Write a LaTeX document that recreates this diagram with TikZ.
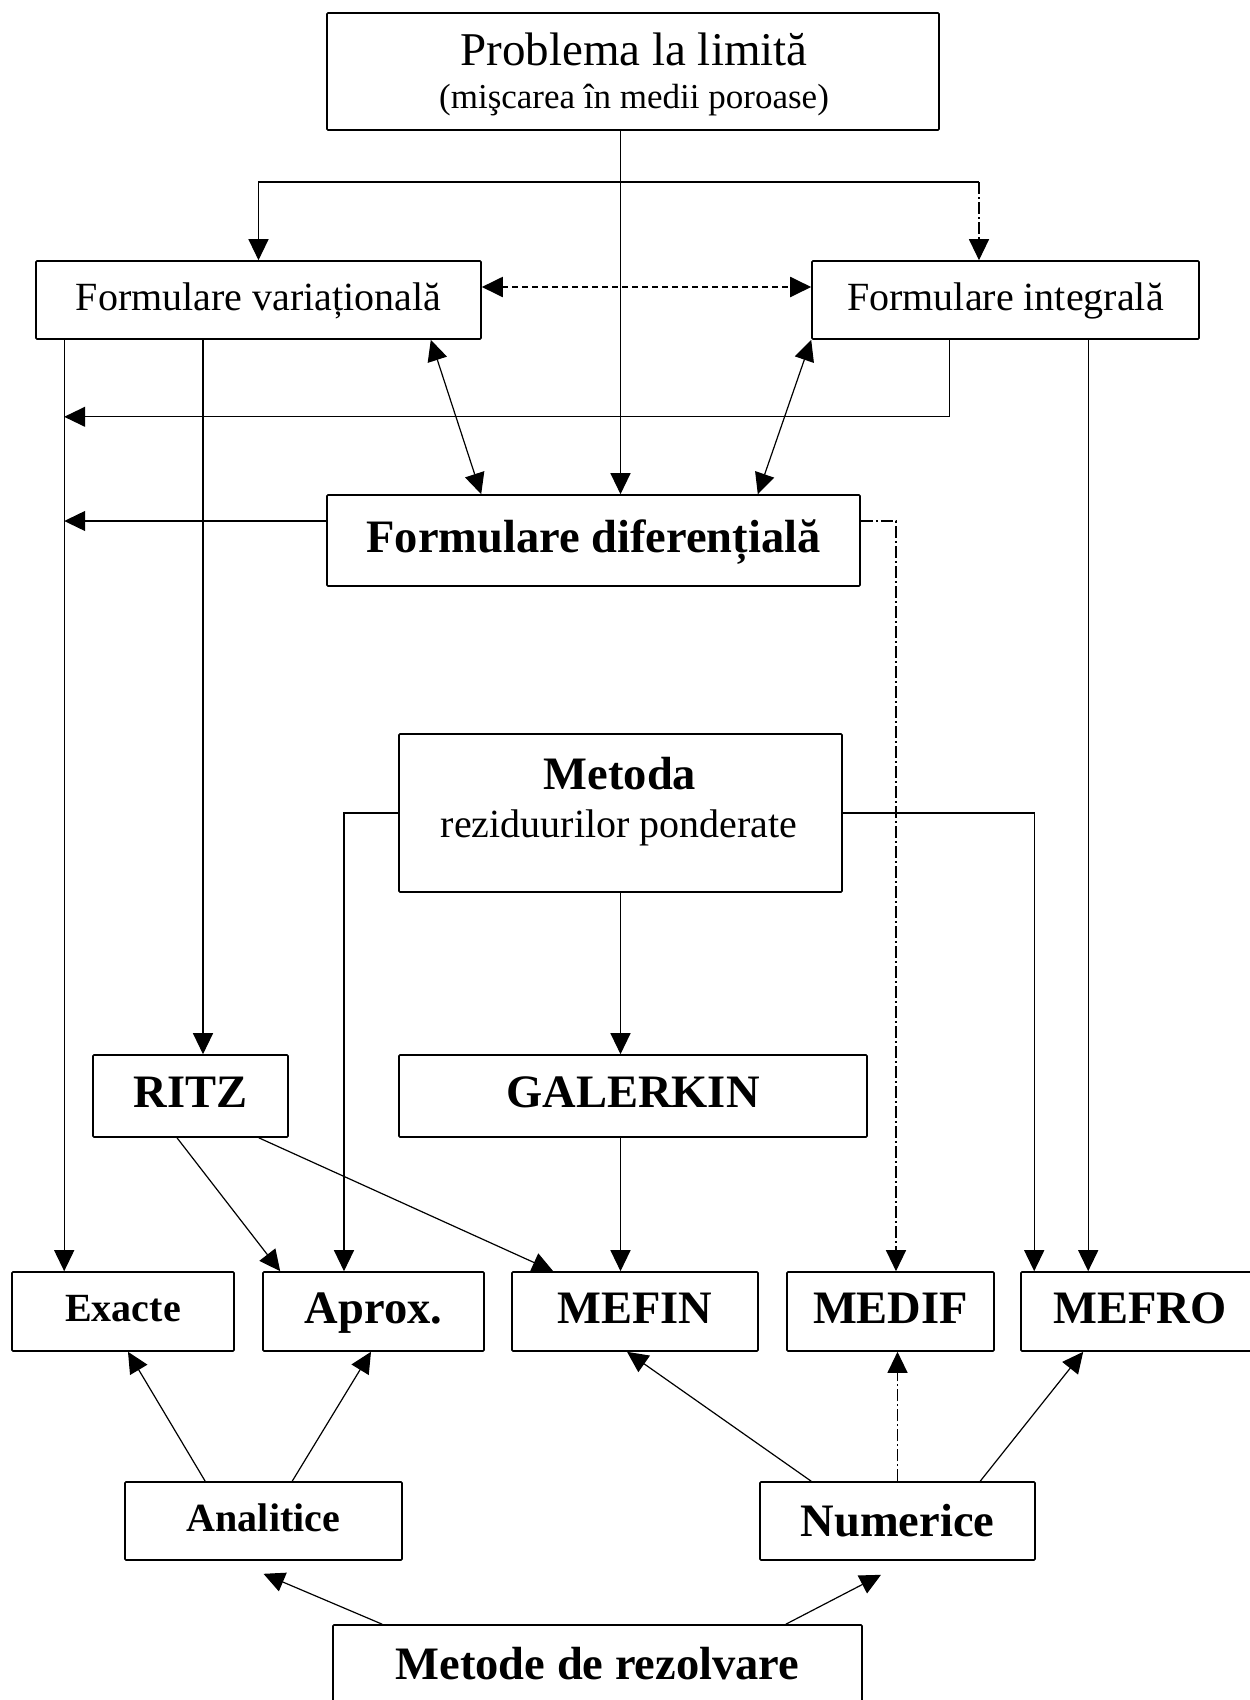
\documentclass[tikz,border=0pt]{standalone}
\usepackage{fontspec}
\setmainfont{Liberation Serif}
\usetikzlibrary{arrows.meta}

\begin{document}
\begin{tikzpicture}[x=1pt, y=-1pt,
  box/.style={draw, line width=1.6pt, inner sep=0pt, rounded corners=1pt},
  tmed/.style={font=\fontsize{40}{44}\selectfont, text height=28pt, text depth=8pt},
  tmedb/.style={font=\fontsize{40}{44}\selectfont\bfseries, text height=28pt, text depth=8pt},
  tbig/.style={font=\fontsize{46.5}{50}\selectfont\bfseries, text height=32pt, text depth=9pt},
  conn/.style={line width=1.2pt, -{Triangle[length=21pt, width=20pt]}},
  both/.style={line width=1.2pt, {Triangle[length=21pt, width=20pt]}-{Triangle[length=21pt, width=20pt]}},
  plain/.style={line width=1.2pt},
  dashdot/.style={dash pattern=on 12pt off 3pt on 2pt off 3pt},
  dashedl/.style={line width=2pt, dash pattern=on 6pt off 4pt}
]
\useasboundingbox (0,0) rectangle (1250,1700);
\path[clip] (0,0) rectangle (1250,1700);

% ---------- boxes ----------
\node[box, minimum width=612pt, minimum height=117pt] (prob) at (633,71.5) {};
\node[font=\fontsize{47}{50}\selectfont, anchor=base] (probA) at (634,65) {Problema la limită};
\node[font=\fontsize{35}{40}\selectfont, anchor=base] (probB) at (634,108) {(mişcarea în medii poroase)};

\node[box, tmed, minimum width=445pt, minimum height=78pt] (fv) at (258.5,300) {Formulare variațională};
\node[box, tmed, minimum width=387pt, minimum height=78pt] (fi) at (1005.5,300) {Formulare integrală};

\node[box, tbig, minimum width=533pt, minimum height=91pt] (fd) at (593.5,540.5) {Formulare diferențială};

\node[box, minimum width=443pt, minimum height=158pt] (met) at (620.5,813) {};
\node[font=\fontsize{46.5}{50}\selectfont\bfseries, anchor=base] (metA) at (620,789) {Metoda};
\node[font=\fontsize{40}{44}\selectfont, anchor=base] (metB) at (619,837) {reziduurilor ponderate};

\node[box, tbig, minimum width=195pt, minimum height=82pt] (ritz) at (190.5,1096) {RITZ};
\node[box, tbig, minimum width=468pt, minimum height=82pt] (gal) at (633,1096) {GALERKIN};

\node[box, tmedb, minimum width=222pt, minimum height=79pt] (exa) at (123,1311.5) {Exacte};
\node[box, tbig, minimum width=221pt, minimum height=79pt] (apr) at (373.5,1311.5) {Aprox.};
\node[box, tbig, minimum width=246pt, minimum height=79pt] (mefin) at (635,1311.5) {MEFIN};
\node[box, tbig, minimum width=207pt, minimum height=79pt] (medif) at (890.5,1311.5) {MEDIF};
\node[box, tbig, minimum width=238pt, minimum height=79pt] (mefro) at (1140,1311.5) {MEFRO};

\node[box, tmedb, minimum width=277pt, minimum height=78pt] (anal) at (263.5,1521) {Analitice};
\node[box, tbig, text height=36pt, text depth=5pt, minimum width=275pt, minimum height=78pt] (num) at (897.5,1521) {Numerice};

\node[box, tbig, minimum width=529pt, minimum height=86pt] (metode) at (597.5,1668) {Metode de rezolvare};

% ---------- helper points ----------
\coordinate (trunk) at (met.north |- prob.south);
\coordinate (split) at (620.5,182);
\coordinate (fiIn) at ([xshift=-26.5pt]fi.north);
\coordinate (lv) at ([xshift=29pt]fv.south west);
\coordinate (fvR) at ([xshift=-55.5pt]fv.south);
\coordinate (fiOut) at ([xshift=138pt]fi.south west);
\coordinate (fiTurn) at ([yshift=-77pt]fiOut);
\coordinate (fiDown) at ([xshift=277pt]fi.south west);
\coordinate (fdL) at ([yshift=19.5pt]fd.west);
\coordinate (fdR) at ([yshift=19.5pt]fd.east);
\coordinate (mdx) at ([xshift=5.5pt]medif.north);
\coordinate (apIn) at ([xshift=-29.5pt]apr.north);
\coordinate (mfIn) at ([xshift=14pt]mefro.north west);
\coordinate (fvA) at ([yshift=13pt]fv.east);
\coordinate (fiA) at ([yshift=13pt]fi.west);

% ---------- connectors: upper part ----------
\draw[conn] (trunk) -- (trunk |- fd.north);
\draw[conn] (split) -| (fv.north);
\draw[plain] (split) -- (split -| fiIn);
\draw[conn, dashdot] (split -| fiIn) -- (fiIn);
\draw[both, dashedl] (fvA) -- (fiA);
\draw[both] ([xshift=-51pt]fv.south east) -- ([xshift=155pt]fd.north west);
\draw[both] (fi.south west) -- ([xshift=-103pt]fd.north east);

% ---------- connectors: left column ----------
\draw[conn] (lv) -- (lv |- exa.north);
\draw[conn] (fiOut) -- (fiTurn) -- (fiTurn -| lv);
\draw[conn] (fdL) -- (fdL -| lv);
\draw[conn] (fvR) -- (fvR |- ritz.north);

% ---------- connectors: right column ----------
\draw[conn, dashdot] (fdR) -| (mdx);
\draw[conn] (met.east) -| (mfIn);
\draw[conn] (fiDown) -- (fiDown |- mefro.north);

% ---------- connectors: middle ----------
\draw[conn] (met.west) -| (apIn);
\draw[conn] (met.south) -- (met.south |- gal.north);
\draw[conn] (met.south |- gal.south) -- (met.south |- mefin.north);
\draw[conn] ([xshift=-13.5pt]ritz.south) -- ([xshift=18pt]apr.north west);
\draw[conn] ([xshift=-30pt]ritz.south east) -- ([xshift=42pt]mefin.north west);

% ---------- connectors: solution methods ----------
\draw[conn] ([xshift=81pt]anal.north west) -- ([xshift=5pt]exa.south);
\draw[conn] ([xshift=168pt]anal.north west) -- ([xshift=-2.5pt]apr.south);
\draw[conn] ([xshift=52pt]num.north west) -- ([xshift=-8pt]mefin.south);
\draw[conn, dashdot] (num.north) -- (num.north |- medif.south);
\draw[conn] ([xshift=221pt]num.north west) -- ([xshift=63pt]mefro.south west);
\draw[conn] ([xshift=50pt]metode.north west) -- ([yshift=-13pt]anal.south);
\draw[conn] ([xshift=-77pt]metode.north east) -- ([shift={(-16.5pt,-14pt)}]num.south);
\end{tikzpicture}
\end{document}
